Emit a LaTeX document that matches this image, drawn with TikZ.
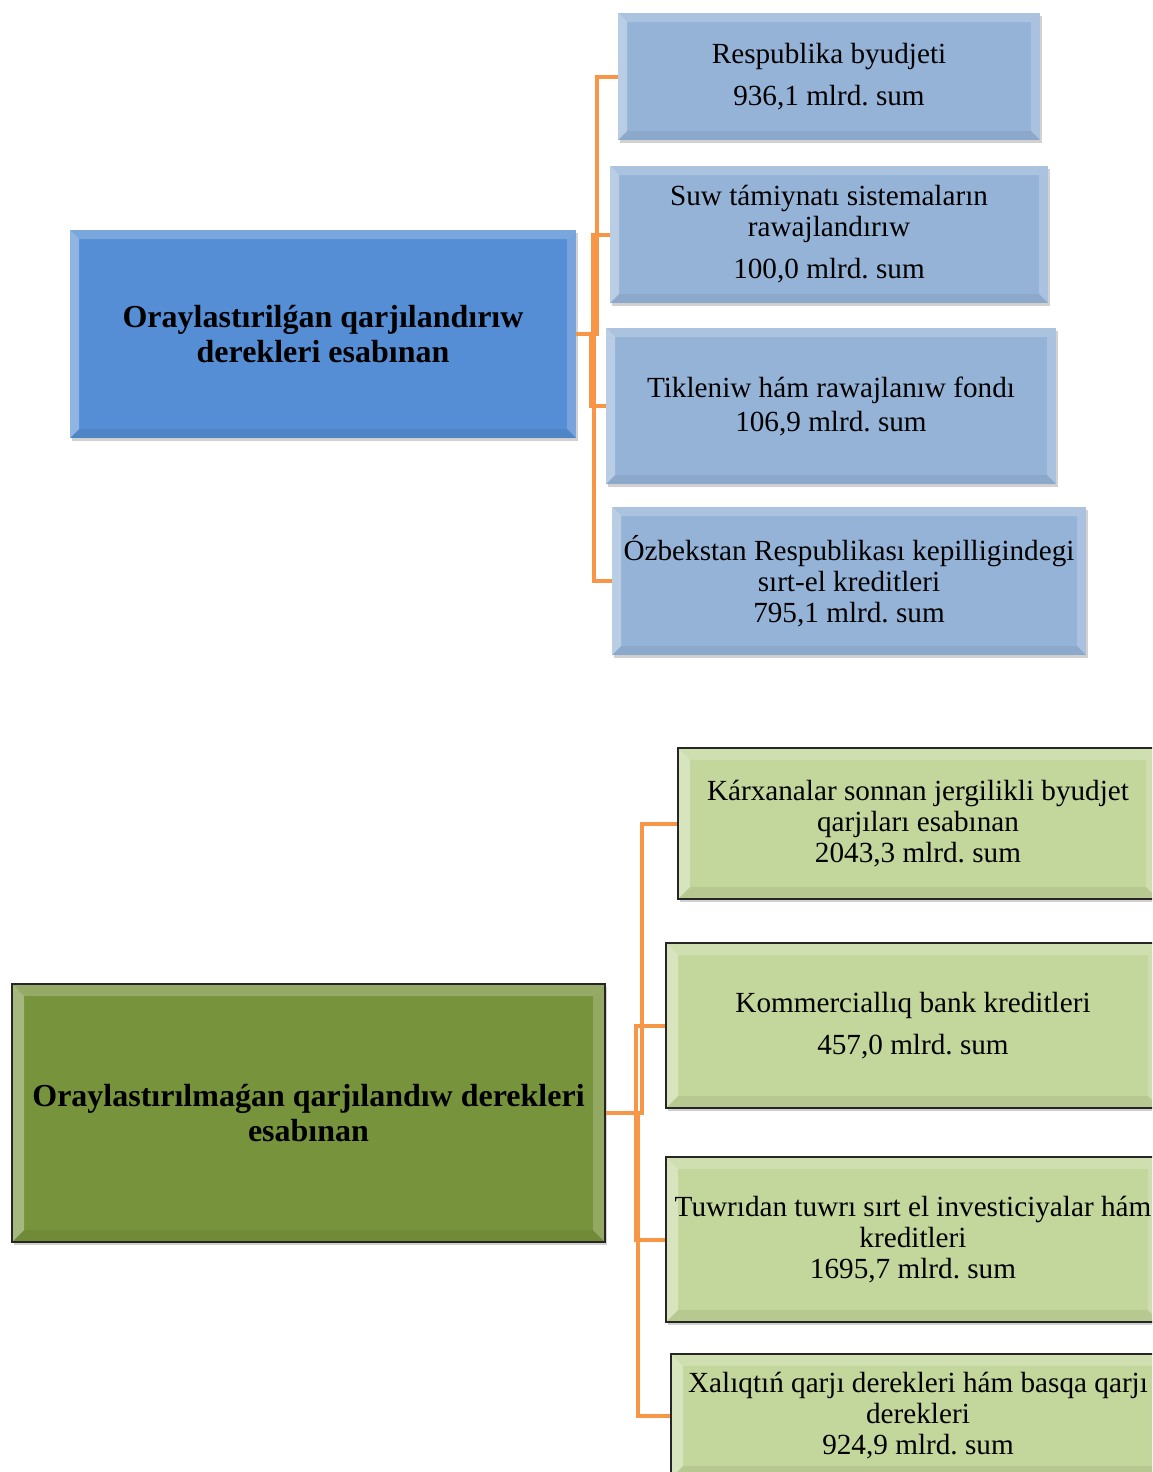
\documentclass[tikz,border=0pt]{standalone}
\usepackage{fontspec}
\setmainfont{Liberation Serif}
\usepackage{tikz}
\usetikzlibrary{calc,shadows}
\frenchspacing

\definecolor{mainblue}{HTML}{558ED5}
\definecolor{lightblue}{HTML}{95B3D7}
\definecolor{darkgreen}{HTML}{77933C}
\definecolor{lightgreen}{HTML}{C3D69B}
\definecolor{linkorange}{HTML}{F79646}

\tikzset{
  bevel/.style={path picture={
    \coordinate (bvnw) at (path picture bounding box.north west);
    \coordinate (bvne) at (path picture bounding box.north east);
    \coordinate (bvsw) at (path picture bounding box.south west);
    \coordinate (bvse) at (path picture bounding box.south east);
    \fill[white,opacity=.22] (bvnw) -- (bvne) -- ([shift={(-#1,-#1)}]bvne)
      -- ([shift={(#1,-#1)}]bvnw) -- cycle;
    \fill[white,opacity=.35] (bvnw) -- ([shift={(#1,-#1)}]bvnw)
      -- ([shift={(#1,#1)}]bvsw) -- (bvsw) -- cycle;
    \fill[white,opacity=.20] (bvne) -- (bvse) -- ([shift={(-#1,#1)}]bvse)
      -- ([shift={(-#1,-#1)}]bvne) -- cycle;
    \fill[black,opacity=.06] (bvsw) -- (bvse) -- ([shift={(-#1,#1)}]bvse)
      -- ([shift={(#1,#1)}]bvsw) -- cycle;
  }},
  bevel/.default=5pt,
  box/.style={rectangle, align=center, inner sep=1pt,
    drop shadow={shadow xshift=1pt, shadow yshift=-1.5pt, opacity=.3, fill=black!60},
    font=\fontsize{14.6}{15.5}\selectfont},
  topbox/.style={box, fill=mainblue, bevel=4.5pt,
    font=\bfseries\fontsize{16}{17.5}\selectfont},
  srcbox/.style={box, fill=lightblue, bevel=4.5pt},
  lowbox/.style={box, fill=darkgreen, draw=black!85, line width=1pt, bevel=6pt,
    font=\bfseries\fontsize{16}{17.5}\selectfont},
  grnbox/.style={box, fill=lightgreen, draw=black!85, line width=1pt, bevel=6pt},
  link/.style={draw=linkorange, line width=2pt}
}

\begin{document}
\begin{tikzpicture}[x=0.5pt,y=-0.5pt]
  \useasboundingbox (0,0) rectangle (1152,1472);
  \clip (0,0) rectangle (1152,1472);

  \node[topbox, minimum width=253pt, minimum height=104pt] (top) at (323,334)
    {Oraylastırilǵan qarjılandırıw\\derekleri esabınan};

  \node[srcbox, minimum width=211pt, minimum height=63.5pt] (b1) at (829,76.5)
    {Respublika byudjeti\\[5.5pt]936,1 mlrd. sum};
  \node[srcbox, minimum width=219pt, minimum height=68.5pt] (b2) at (829,234.5)
    {Suw támiynatı sistemaların\\rawajlandırıw\\[5.5pt]100,0 mlrd. sum};
  \node[srcbox, minimum width=225pt, minimum height=78pt] (b3) at (831,406)
    {Tikleniw hám rawajlanıw fondı\\[1.5pt]106,9 mlrd. sum};
  \node[srcbox, minimum width=237pt, minimum height=74pt] (b4) at (849,581)
    {Ózbekstan Respublikası kepilligindegi\\sırt-el kreditleri\\795,1 mlrd. sum};

  \draw[link] (top.east) -- ($(top.east)!.5!(top.east -| b1.west)$) |- (b1.west);
  \draw[link] (top.east) -- ($(top.east)!.5!(top.east -| b2.west)$) |- (b2.west);
  \draw[link] (top.east) -- ($(top.east)!.5!(top.east -| b3.west)$) |- (b3.west);
  \draw[link] (top.east) -- ($(top.east)!.5!(top.east -| b4.west)$) |- (b4.west);

  \node[lowbox, minimum width=296.5pt, minimum height=129pt] (low) at (308.5,1113)
    {Oraylastırılmaǵan qarjılandıw derekleri\\esabınan};

  \node[grnbox, minimum width=240pt, minimum height=75.5pt] (g1) at (918,823.5)
    {Kárxanalar sonnan jergilikli byudjet\\qarjıları esabınan\\2043,3 mlrd. sum};
  \node[grnbox, minimum width=247pt, minimum height=82.5pt] (g2) at (913,1025.5)
    {Kommerciallıq bank kreditleri\\[5.5pt]457,0 mlrd. sum};
  \node[grnbox, minimum width=247pt, minimum height=82.5pt] (g3) at (913,1239.5)
    {Tuwrıdan tuwrı sırt el investiciyalar hám\\kreditleri\\1695,7 mlrd. sum};
  \node[grnbox, minimum width=247pt, minimum height=62pt] (g4) at (918,1416)
    {Xalıqtıń qarjı derekleri hám basqa qarjı\\derekleri\\924,9 mlrd. sum};

  \draw[link] (low.east) -- ($(low.east)!.5!(low.east -| g1.west)$) |- (g1.west);
  \draw[link] (low.east) -- ($(low.east)!.5!(low.east -| g2.west)$) |- (g2.west);
  \draw[link] (low.east) -- ($(low.east)!.5!(low.east -| g3.west)$) |- (g3.west);
  \draw[link] (low.east) -- ($(low.east)!.5!(low.east -| g4.west)$) |- (g4.west);
\end{tikzpicture}
\end{document}
